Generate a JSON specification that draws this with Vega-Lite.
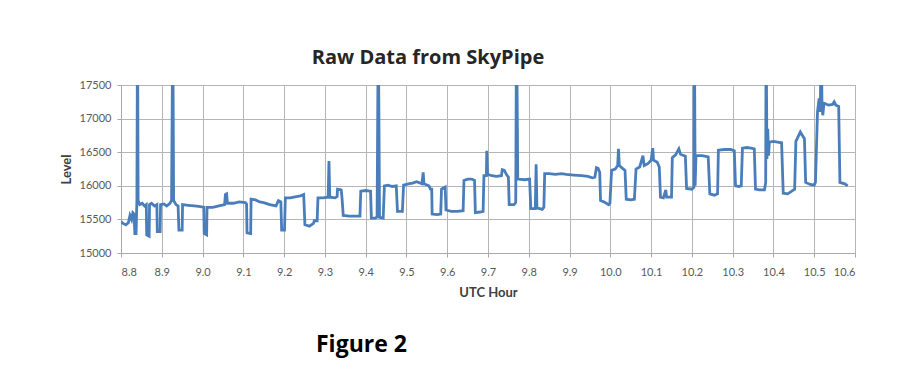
{
  "$schema": "https://vega.github.io/schema/vega-lite/v6.json",
  "background": "white",
  "padding": {"left": 59, "top": 47, "right": 40, "bottom": 5},
  "title": {"text": "Figure 2", "orient": "bottom", "anchor": "start", "frame": "group", "dx": 195, "offset": 34, "font": "Open Sans", "fontSize": 23, "fontWeight": "bold", "color": "#000000"},
  "vconcat": [
    {
      "width": 734,
      "height": 168,
      "title": {"text": "Raw Data from SkyPipe", "anchor": "middle", "dx": -60, "offset": 11, "font": "Open Sans", "fontSize": 20, "fontWeight": "bold", "color": "#262626"},
      "data": {"values": [
        {"hour": 8.800, "level": 15470}, {"hour": 8.805, "level": 15440}, {"hour": 8.812, "level": 15420}, {"hour": 8.818, "level": 15450},
        {"hour": 8.822, "level": 15560}, {"hour": 8.826, "level": 15500}, {"hour": 8.829, "level": 15600}, {"hour": 8.832, "level": 15580},
        {"hour": 8.834, "level": 15290}, {"hour": 8.837, "level": 15290}, {"hour": 8.839, "level": 15800}, {"hour": 8.8405, "level": 18500},
        {"hour": 8.842, "level": 15780}, {"hour": 8.846, "level": 15720}, {"hour": 8.852, "level": 15740}, {"hour": 8.858, "level": 15700},
        {"hour": 8.862, "level": 15720}, {"hour": 8.863, "level": 15270}, {"hour": 8.869, "level": 15250}, {"hour": 8.870, "level": 15720},
        {"hour": 8.875, "level": 15740}, {"hour": 8.882, "level": 15700}, {"hour": 8.888, "level": 15720}, {"hour": 8.889, "level": 15320},
        {"hour": 8.896, "level": 15320}, {"hour": 8.897, "level": 15720}, {"hour": 8.905, "level": 15730}, {"hour": 8.912, "level": 15700},
        {"hour": 8.920, "level": 15740}, {"hour": 8.924, "level": 15780}, {"hour": 8.927, "level": 18500}, {"hour": 8.929, "level": 15780},
        {"hour": 8.935, "level": 15720}, {"hour": 8.940, "level": 15700}, {"hour": 8.942, "level": 15340}, {"hour": 8.950, "level": 15340},
        {"hour": 8.951, "level": 15720}, {"hour": 8.965, "level": 15710}, {"hour": 8.980, "level": 15700}, {"hour": 8.995, "level": 15690},
        {"hour": 9.003, "level": 15680}, {"hour": 9.004, "level": 15290}, {"hour": 9.010, "level": 15270}, {"hour": 9.011, "level": 15680},
        {"hour": 9.025, "level": 15680}, {"hour": 9.040, "level": 15700}, {"hour": 9.054, "level": 15720}, {"hour": 9.056, "level": 15870},
        {"hour": 9.059, "level": 15880}, {"hour": 9.061, "level": 15740}, {"hour": 9.075, "level": 15740}, {"hour": 9.090, "level": 15760},
        {"hour": 9.105, "level": 15750}, {"hour": 9.108, "level": 15730}, {"hour": 9.109, "level": 15300}, {"hour": 9.118, "level": 15290},
        {"hour": 9.119, "level": 15800}, {"hour": 9.130, "level": 15790}, {"hour": 9.140, "level": 15760}, {"hour": 9.150, "level": 15750},
        {"hour": 9.165, "level": 15720}, {"hour": 9.180, "level": 15700}, {"hour": 9.186, "level": 15780}, {"hour": 9.192, "level": 15760},
        {"hour": 9.194, "level": 15340}, {"hour": 9.201, "level": 15340}, {"hour": 9.203, "level": 15820}, {"hour": 9.215, "level": 15820},
        {"hour": 9.230, "level": 15840}, {"hour": 9.240, "level": 15850}, {"hour": 9.248, "level": 15870}, {"hour": 9.251, "level": 15420},
        {"hour": 9.262, "level": 15400}, {"hour": 9.272, "level": 15440}, {"hour": 9.274, "level": 15480}, {"hour": 9.281, "level": 15480},
        {"hour": 9.283, "level": 15820}, {"hour": 9.295, "level": 15820}, {"hour": 9.308, "level": 15830}, {"hour": 9.310, "level": 16370},
        {"hour": 9.312, "level": 15830}, {"hour": 9.325, "level": 15820}, {"hour": 9.330, "level": 15840}, {"hour": 9.331, "level": 15950},
        {"hour": 9.340, "level": 15940}, {"hour": 9.342, "level": 15820}, {"hour": 9.345, "level": 15560}, {"hour": 9.360, "level": 15550},
        {"hour": 9.375, "level": 15550}, {"hour": 9.386, "level": 15550}, {"hour": 9.388, "level": 15920}, {"hour": 9.400, "level": 15930},
        {"hour": 9.412, "level": 15920}, {"hour": 9.414, "level": 15520}, {"hour": 9.424, "level": 15520}, {"hour": 9.428, "level": 15540},
        {"hour": 9.431, "level": 18500}, {"hour": 9.434, "level": 15530}, {"hour": 9.443, "level": 15520}, {"hour": 9.446, "level": 16000},
        {"hour": 9.455, "level": 16010}, {"hour": 9.465, "level": 15990}, {"hour": 9.475, "level": 16000}, {"hour": 9.478, "level": 15620},
        {"hour": 9.490, "level": 15620}, {"hour": 9.493, "level": 16010}, {"hour": 9.505, "level": 16030}, {"hour": 9.515, "level": 16040},
        {"hour": 9.525, "level": 16060}, {"hour": 9.538, "level": 16030}, {"hour": 9.541, "level": 16200}, {"hour": 9.543, "level": 16030},
        {"hour": 9.555, "level": 16000}, {"hour": 9.559, "level": 15950}, {"hour": 9.562, "level": 15950}, {"hour": 9.563, "level": 15580},
        {"hour": 9.575, "level": 15570}, {"hour": 9.584, "level": 15580}, {"hour": 9.586, "level": 15950}, {"hour": 9.595, "level": 15980},
        {"hour": 9.597, "level": 15640}, {"hour": 9.610, "level": 15620}, {"hour": 9.625, "level": 15620}, {"hour": 9.639, "level": 15630},
        {"hour": 9.641, "level": 16080}, {"hour": 9.650, "level": 16100}, {"hour": 9.660, "level": 16100}, {"hour": 9.667, "level": 16080},
        {"hour": 9.669, "level": 15600}, {"hour": 9.680, "level": 15610}, {"hour": 9.688, "level": 15620}, {"hour": 9.690, "level": 16150},
        {"hour": 9.696, "level": 16150}, {"hour": 9.697, "level": 16520}, {"hour": 9.699, "level": 16170}, {"hour": 9.710, "level": 16150},
        {"hour": 9.720, "level": 16140}, {"hour": 9.733, "level": 16150}, {"hour": 9.735, "level": 16240}, {"hour": 9.740, "level": 16230},
        {"hour": 9.746, "level": 16160}, {"hour": 9.750, "level": 16130}, {"hour": 9.752, "level": 15720}, {"hour": 9.764, "level": 15720},
        {"hour": 9.768, "level": 15750}, {"hour": 9.770, "level": 18500}, {"hour": 9.773, "level": 16100}, {"hour": 9.790, "level": 16090},
        {"hour": 9.802, "level": 16100}, {"hour": 9.805, "level": 15660}, {"hour": 9.816, "level": 15660}, {"hour": 9.818, "level": 16320},
        {"hour": 9.820, "level": 15670}, {"hour": 9.833, "level": 15650}, {"hour": 9.837, "level": 15680}, {"hour": 9.839, "level": 16180},
        {"hour": 9.850, "level": 16180}, {"hour": 9.865, "level": 16170}, {"hour": 9.880, "level": 16180}, {"hour": 9.892, "level": 16170},
        {"hour": 9.910, "level": 16160}, {"hour": 9.930, "level": 16150}, {"hour": 9.945, "level": 16140}, {"hour": 9.956, "level": 16120},
        {"hour": 9.962, "level": 16130}, {"hour": 9.966, "level": 16270}, {"hour": 9.970, "level": 16260}, {"hour": 9.974, "level": 16200},
        {"hour": 9.976, "level": 15780}, {"hour": 9.985, "level": 15760}, {"hour": 9.996, "level": 15720}, {"hour": 9.999, "level": 15740},
        {"hour": 10.003, "level": 16230}, {"hour": 10.012, "level": 16250}, {"hour": 10.018, "level": 16300}, {"hour": 10.020, "level": 16550},
        {"hour": 10.022, "level": 16300}, {"hour": 10.030, "level": 16260}, {"hour": 10.036, "level": 16230}, {"hour": 10.039, "level": 15800},
        {"hour": 10.050, "level": 15790}, {"hour": 10.059, "level": 15800}, {"hour": 10.063, "level": 16250}, {"hour": 10.072, "level": 16280},
        {"hour": 10.080, "level": 16450}, {"hour": 10.083, "level": 16300}, {"hour": 10.092, "level": 16330}, {"hour": 10.100, "level": 16380},
        {"hour": 10.104, "level": 16560}, {"hour": 10.106, "level": 16380}, {"hour": 10.115, "level": 16350}, {"hour": 10.120, "level": 16280},
        {"hour": 10.123, "level": 15830}, {"hour": 10.130, "level": 15820}, {"hour": 10.136, "level": 15940}, {"hour": 10.138, "level": 15830},
        {"hour": 10.150, "level": 15830}, {"hour": 10.152, "level": 16420}, {"hour": 10.160, "level": 16460}, {"hour": 10.168, "level": 16550},
        {"hour": 10.172, "level": 16470}, {"hour": 10.184, "level": 16440}, {"hour": 10.187, "level": 15960}, {"hour": 10.200, "level": 15950},
        {"hour": 10.205, "level": 15980}, {"hour": 10.206, "level": 18500}, {"hour": 10.208, "level": 16000}, {"hour": 10.210, "level": 16450},
        {"hour": 10.225, "level": 16450}, {"hour": 10.240, "level": 16430}, {"hour": 10.244, "level": 15880}, {"hour": 10.255, "level": 15860},
        {"hour": 10.263, "level": 15880}, {"hour": 10.265, "level": 16530}, {"hour": 10.280, "level": 16540}, {"hour": 10.295, "level": 16540},
        {"hour": 10.304, "level": 16520}, {"hour": 10.307, "level": 16000}, {"hour": 10.315, "level": 15990}, {"hour": 10.321, "level": 16000},
        {"hour": 10.324, "level": 16560}, {"hour": 10.335, "level": 16570}, {"hour": 10.345, "level": 16560}, {"hour": 10.353, "level": 16550},
        {"hour": 10.356, "level": 15950}, {"hour": 10.365, "level": 15940}, {"hour": 10.378, "level": 15940}, {"hour": 10.381, "level": 16050},
        {"hour": 10.382, "level": 18500}, {"hour": 10.384, "level": 16400}, {"hour": 10.386, "level": 16850}, {"hour": 10.388, "level": 16450},
        {"hour": 10.390, "level": 16650}, {"hour": 10.400, "level": 16660}, {"hour": 10.410, "level": 16650}, {"hour": 10.420, "level": 16640},
        {"hour": 10.424, "level": 15890}, {"hour": 10.435, "level": 15880}, {"hour": 10.445, "level": 15920}, {"hour": 10.452, "level": 15950},
        {"hour": 10.455, "level": 16660}, {"hour": 10.462, "level": 16750}, {"hour": 10.466, "level": 16800}, {"hour": 10.470, "level": 16760},
        {"hour": 10.476, "level": 16700}, {"hour": 10.479, "level": 16050}, {"hour": 10.490, "level": 16020}, {"hour": 10.500, "level": 16010},
        {"hour": 10.503, "level": 16050}, {"hour": 10.508, "level": 17100}, {"hour": 10.512, "level": 17300}, {"hour": 10.515, "level": 17100},
        {"hour": 10.517, "level": 18500}, {"hour": 10.519, "level": 17200}, {"hour": 10.521, "level": 17050}, {"hour": 10.524, "level": 17230},
        {"hour": 10.535, "level": 17200}, {"hour": 10.545, "level": 17210}, {"hour": 10.549, "level": 17250}, {"hour": 10.553, "level": 17200},
        {"hour": 10.560, "level": 17180}, {"hour": 10.563, "level": 16050}, {"hour": 10.575, "level": 16030}, {"hour": 10.582, "level": 16000}
      ]},
      "mark": {"type": "line", "color": "#4A7EBB", "strokeWidth": 2.8, "clip": true},
      "encoding": {
        "x": {"field": "hour", "type": "quantitative", "scale": {"domain": [8.8, 10.6], "nice": false, "zero": false},
          "axis": {"title": "UTC Hour", "format": ".1f", "values": [8.8, 8.9, 9.0, 9.1, 9.2, 9.3, 9.4, 9.5, 9.6, 9.7, 9.8, 9.9, 10.0, 10.1, 10.2, 10.3, 10.4, 10.5, 10.6], "labelPadding": 9, "titlePadding": 9}},
        "y": {"field": "level", "type": "quantitative", "scale": {"domain": [15000, 17500], "nice": false, "zero": false},
          "axis": {"title": "Level", "format": "d", "values": [15000, 15500, 16000, 16500, 17000, 17500], "labelPadding": 6, "titlePadding": 6}}
      }
    }
  ],
  "config": {
    "view": {"stroke": "#b5b5b5"},
    "axis": {"gridColor": "#b5b5b5", "domainColor": "#a8a8a8", "tickColor": "#a8a8a8", "tickSize": 4, "labelColor": "#595959", "labelFont": "Lato", "labelFontSize": 11, "titleFont": "Lato", "titleFontSize": 13, "titleFontWeight": "bold", "titleColor": "#404040"}
  }
}
